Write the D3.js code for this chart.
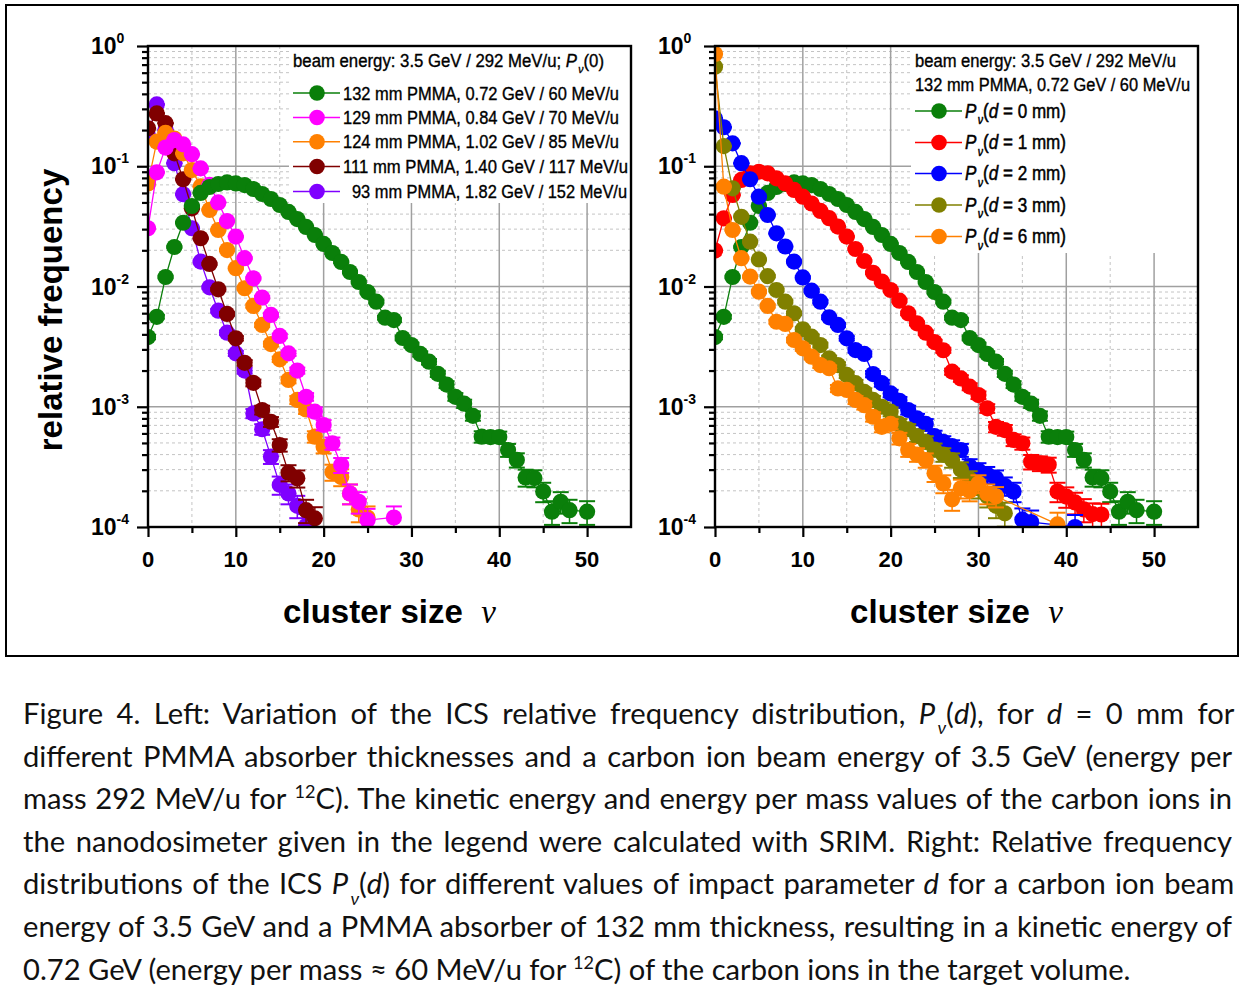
<!DOCTYPE html>
<html><head><meta charset="utf-8">
<script src="https://cdn.jsdelivr.net/npm/d3@7"></script>
<style>body{margin:0;background:#fff;} svg{display:block}</style>
</head><body>
<svg id="chart" width="1245" height="988"></svg>
<script>
// ---------------- DATA (index = cluster size ν, null = no point) ----------------
const xTicks = [0, 10, 20, 30, 40, 50];
const yTickExps = [0, -1, -2, -3, -4];

const p132mm = [3.8e-3,5.6e-3,0.012,0.0213,0.0339,0.0467,0.060,0.0672,0.0712,0.0733,0.072,0.0698,0.0647,0.0588,0.0534,0.0476,0.0417,0.0364,0.0313,0.0268,0.0226,0.0190,0.0160,0.0132,0.0109,9.0e-3,7.48e-3,5.5e-3,5.26e-3,3.73e-3,3.26e-3,2.75e-3,2.37e-3,1.88e-3,1.53e-3,1.21e-3,1.06e-3,8.4e-4,5.64e-4,5.6e-4,5.6e-4,4.37e-4,3.61e-4,2.58e-4,2.55e-4,1.97e-4,1.34e-4,1.62e-4,1.38e-4,null,1.34e-4];
const p129mm = [0.0305,0.089,0.143,0.165,0.152,0.126,0.096,0.070,0.050,0.035,0.026,0.0172,0.0117,8.1e-3,5.8e-3,3.88e-3,2.78e-3,2.0e-3,1.21e-3,9.1e-4,7.05e-4,4.97e-4,3.28e-4,1.9e-4,1.62e-4,1.14e-4,null,null,1.2e-4];
const p124mm = [0.072,0.16,0.19,0.17,0.128,0.093,0.068,0.0433,0.0295,0.0201,0.0142,9.67e-3,6.89e-3,4.79e-3,3.32e-3,2.48e-3,1.67e-3,1.14e-3,9.5e-4,5.64e-4,4.65e-4,2.86e-4,2.6e-4,1.9e-4,1.4e-4,1.2e-4];
const p111mm = [0.207,0.275,0.228,0.128,0.078,0.0447,0.0252,0.0154,9.48e-3,5.91e-3,3.71e-3,2.32e-3,1.58e-3,9.4e-4,7.5e-4,4.8e-4,2.83e-4,2.54e-4,1.38e-4,1.18e-4];
const p93mm  = [0.18,0.327,0.2,0.106,0.0585,0.0305,0.0161,9.85e-3,6.29e-3,4.13e-3,2.78e-3,2.0e-3,8.8e-4,6.5e-4,3.85e-4,2.24e-4,1.9e-4,1.5e-4,1.02e-4];

const pd0 = p132mm;
const pd1 = [0.0199,0.0369,0.0577,0.0769,0.0873,0.090,0.0873,0.0794,0.072,0.0635,0.0558,0.0490,0.0425,0.0370,0.0315,0.026,0.0205,0.0163,0.013,0.011,9.35e-3,7.62e-3,5.98e-3,4.94e-3,4.13e-3,3.45e-3,2.95e-3,1.96e-3,1.72e-3,1.47e-3,1.25e-3,9.7e-4,6.8e-4,6.4e-4,5.3e-4,4.97e-4,3.49e-4,3.39e-4,3.3e-4,1.97e-4,1.79e-4,1.6e-4,1.4e-4,1.28e-4,1.27e-4];
const pd2 = [0.25,0.211,0.155,0.106,0.078,0.0558,0.0393,0.0277,0.0215,0.0161,0.0119,9.23e-3,7.48e-3,5.54e-3,4.79e-3,3.71e-3,2.96e-3,2.75e-3,1.87e-3,1.57e-3,1.29e-3,1.12e-3,9.4e-4,8.0e-4,7.2e-4,5.7e-4,5.1e-4,4.7e-4,4.37e-4,3.2e-4,2.95e-4,2.73e-4,2.54e-4,2.2e-4,1.97e-4,1.15e-4,1.1e-4,null,null,null,null,1.0e-4];
const pd3 = [0.673,0.147,0.0655,0.038,0.0236,0.0168,0.0122,9.35e-3,7.48e-3,5.98e-3,4.41e-3,3.83e-3,3.26e-3,2.53e-3,2.22e-3,1.84e-3,1.57e-3,1.33e-3,1.14e-3,1.0e-3,9.1e-4,7.2e-4,6.5e-4,5.7e-4,5.1e-4,4.4e-4,4.0e-4,3.6e-4,3.0e-4,2.5e-4,2.1e-4,1.8e-4,1.5e-4,1.3e-4];
const pd6 = [0.858,0.0676,0.0295,0.0172,0.0121,9.06e-3,6.89e-3,5.09e-3,4.88e-3,3.59e-3,3.06e-3,2.61e-3,2.22e-3,2.09e-3,1.42e-3,1.38e-3,1.14e-3,1.03e-3,8.26e-4,6.8e-4,7.2e-4,5.46e-4,4.37e-4,4.0e-4,3.6e-4,2.8e-4,2.3e-4,1.7e-4,2.1e-4,2.0e-4,2.3e-4,1.9e-4,1.8e-4,null,null,null,null,null,null,1.05e-4];

const leftLabels = ["132 mm PMMA, 0.72 GeV / 60 MeV/u","129 mm PMMA, 0.84 GeV / 70 MeV/u","124 mm PMMA, 1.02 GeV / 85 MeV/u","111 mm PMMA, 1.40 GeV / 117 MeV/u","93 mm PMMA, 1.82 GeV / 152 MeV/u"];
const leftValues = [p132mm, p129mm, p124mm, p111mm, p93mm];
const leftColors = ["#0a7f0a","#ff00ff","#ff8000","#800000","#7f00ff"];
const rightDistances = ["0","1","2","3","6"];
const rightValues = [pd0, pd1, pd2, pd3, pd6];
const rightColors = ["#0a7f0a","#ff0000","#0000ff","#808000","#ff8000"];
const EVENTS = 150000; // assumed event count, sets error-bar (counting statistics) size

// ---------------- DRAWING ----------------
const svg = d3.select('#chart');
const ARIAL = "'Liberation Sans', Arial, sans-serif";
const NARROW = "'Liberation Sans Narrow', 'Arial Narrow', 'Liberation Sans', Arial, sans-serif";
svg.append('rect').attr('x',6).attr('y',5).attr('width',1232).attr('height',651)
  .attr('fill','none').attr('stroke','#000').attr('stroke-width',2);

const T = 46, B = 527;
const y = d3.scaleLog().domain([1e-4, 1]).range([B, T]);

function rich(sel, segs, size){
  let shift = 0;
  segs.forEach(([t, s]) => {
    const ts = sel.append('tspan').text(t);
    let target = 0;
    if (s === 'sub') { target = size*0.35; ts.attr('font-size', size*0.62).attr('font-style','italic').attr('dx', size*0.08); }
    else if (s === 'sup') { target = -size*0.38; ts.attr('font-size', size*0.62); }
    else if (s === 'i') ts.attr('font-style','italic');
    if (target !== shift) { ts.attr('dy', target - shift); shift = target; }
  });
  return sel;
}

function drawPanel(cfg){
  const L = cfg.left, R = cfg.right;
  const x = d3.scaleLinear().domain([0, 55]).range([L, R]);
  const g = svg.append('g');
  const minorX = [5,15,25,35,45], majorX = [10,20,30,40,50];
  const majorY = [1e-3,1e-2,1e-1];
  const minorY = [];
  [-4,-3,-2,-1].forEach(e => d3.range(2,10).forEach(k => minorY.push(k*Math.pow(10,e))));
  g.selectAll('.gmx').data(minorX).join('line').attr('x1',d=>x(d)).attr('x2',d=>x(d)).attr('y1',T).attr('y2',B)
    .attr('stroke','#c4c4c4').attr('stroke-width',1).attr('stroke-dasharray','3,3');
  g.selectAll('.gmy').data(minorY).join('line').attr('y1',d=>y(d)).attr('y2',d=>y(d)).attr('x1',L).attr('x2',R)
    .attr('stroke','#c4c4c4').attr('stroke-width',1).attr('stroke-dasharray','3,3');
  g.selectAll('.gMx').data(majorX).join('line').attr('x1',d=>x(d)).attr('x2',d=>x(d)).attr('y1',T).attr('y2',B)
    .attr('stroke','#a0a0a0').attr('stroke-width',1.5);
  g.selectAll('.gMy').data(majorY).join('line').attr('y1',d=>y(d)).attr('y2',d=>y(d)).attr('x1',L).attr('x2',R)
    .attr('stroke','#a0a0a0').attr('stroke-width',1.5);

  const clipId = 'clip' + cfg.id;
  svg.append('clipPath').attr('id', clipId).append('rect').attr('x',L).attr('y',T).attr('width',R-L).attr('height',B-T);
  const dg = g.append('g').attr('clip-path', `url(#${clipId})`);
  cfg.order.forEach(i => {
    const vals = cfg.values[i], col = cfg.colors[i];
    const pts = vals.map((v,k) => ({k, v})).filter(d => d.v != null);
    const sg = dg.append('g');
    sg.append('path').datum(pts).attr('fill','none').attr('stroke',col).attr('stroke-width',1.3)
      .attr('d', d3.line().x(d=>x(d.k)).y(d=>y(d.v)));
    const eb = sg.selectAll('.eb').data(pts).join('g');
    const sig = d => Math.sqrt(d.v/EVENTS);
    eb.append('line').attr('x1',d=>x(d.k)).attr('x2',d=>x(d.k))
      .attr('y1',d=>y(d.v+sig(d))).attr('y2',d=>y(Math.max(d.v-sig(d),1e-5)))
      .attr('stroke',col).attr('stroke-width',1.5);
    eb.append('line').attr('x1',d=>x(d.k)-8).attr('x2',d=>x(d.k)+8)
      .attr('y1',d=>y(d.v+sig(d))).attr('y2',d=>y(d.v+sig(d))).attr('stroke',col).attr('stroke-width',2);
    eb.append('line').attr('x1',d=>x(d.k)-8).attr('x2',d=>x(d.k)+8)
      .attr('y1',d=>y(Math.max(d.v-sig(d),1e-5))).attr('y2',d=>y(Math.max(d.v-sig(d),1e-5))).attr('stroke',col).attr('stroke-width',2);
    sg.selectAll('circle').data(pts).join('circle').attr('cx',d=>x(d.k)).attr('cy',d=>y(d.v)).attr('r',8.1).attr('fill',col);
  });

  // axes
  const ax = g.append('g').attr('transform',`translate(0,${B})`)
    .call(d3.axisBottom(x).tickValues(xTicks).tickSize(10).tickSizeOuter(0).tickFormat(''));
  const axm = g.append('g').attr('transform',`translate(0,${B})`)
    .call(d3.axisBottom(x).tickValues(minorX).tickSize(6).tickSizeOuter(0).tickFormat(''));
  const ay = g.append('g').attr('transform',`translate(${L},0)`)
    .call(d3.axisLeft(y).tickValues(yTickExps.map(e=>Math.pow(10,e))).tickSize(11).tickSizeOuter(0).tickFormat(''));
  const aym = g.append('g').attr('transform',`translate(${L},0)`)
    .call(d3.axisLeft(y).tickValues(minorY).tickSize(6).tickSizeOuter(0).tickFormat(''));
  [ax,axm,ay,aym].forEach(a => { a.select('.domain').remove(); a.selectAll('line').attr('stroke','#000').attr('stroke-width',2.2); });

  xTicks.forEach(v => g.append('text').attr('x',x(v)).attr('y',B+40).attr('text-anchor','middle')
    .attr('font-family',ARIAL).attr('font-weight','bold').attr('font-size',22).text(v));
  yTickExps.forEach(e => {
    const t = g.append('text').attr('x',L-57).attr('y',y(Math.pow(10,e))+8)
      .attr('font-family',ARIAL).attr('font-weight','bold').attr('font-size',23);
    t.append('tspan').text('10');
    t.append('tspan').attr('dy',-11).attr('font-size',14).text(e === 0 ? '0' : '-' + Math.abs(e));
  });
  const xt = g.append('text').attr('x',(L+R)/2).attr('y',B+96).attr('text-anchor','middle')
    .attr('font-family',ARIAL).attr('font-weight','bold').attr('font-size',33);
  xt.append('tspan').text('cluster size\u00A0\u00A0');
  xt.append('tspan').attr('font-family',"'Liberation Serif', serif").attr('font-style','italic').attr('font-weight','normal').text('\u03BD');

  // legend
  const lg = g.append('g');
  lg.append('rect').attr('x',cfg.lx-4).attr('y',T+1).attr('width',R-cfg.lx+3).attr('height',cfg.lh).attr('fill','#fff');
  cfg.legendTitles.forEach((tl, i) => {
    const t = lg.append('text').attr('x',cfg.lx).attr('y',cfg.ty[i]).attr('font-family',NARROW).attr('font-size',17.5)
      .attr('stroke','#000').attr('stroke-width',0.35)
      .attr('textLength',cfg.tw[i]).attr('lengthAdjust','spacingAndGlyphs');
    rich(t, tl, 17.5);
  });
  cfg.legendOrder.forEach((i, r) => {
    const yy = cfg.ey[r];
    lg.append('line').attr('x1',cfg.lx).attr('x2',cfg.lx+47).attr('y1',yy).attr('y2',yy).attr('stroke',cfg.colors[i]).attr('stroke-width',1.5);
    lg.append('circle').attr('cx',cfg.lx+24).attr('cy',yy).attr('r',7.8).attr('fill',cfg.colors[i]);
    const t = lg.append('text').attr('x',cfg.lx+cfg.tx + (cfg.txOff ? cfg.txOff[r] : 0)).attr('y',yy+6.5)
      .attr('font-family',NARROW).attr('font-size',cfg.efs)
      .attr('stroke','#000').attr('stroke-width',cfg.estroke)
      .attr('textLength',cfg.ew[r]).attr('lengthAdjust','spacingAndGlyphs');
    rich(t, cfg.entry(r), cfg.efs);
  });

  g.append('rect').attr('x',L).attr('y',T).attr('width',R-L).attr('height',B-T)
    .attr('fill','none').attr('stroke','#000').attr('stroke-width',2.4);
}

drawPanel({
  id:'L', left:148, right:631, values:leftValues, colors:leftColors, order:[4,3,2,1,0],
  lx:293, lh:156,
  legendTitles:[[["beam energy: 3.5 GeV / 292 MeV/u; ",""],["P","i"],["\u03BD","sub"],["(0)",""]]],
  ty:[67], tw:[311],
  legendOrder:[0,1,2,3,4], ey:[93,117.5,141.8,166.5,191.5], tx:50, txOff:[0,0,0,0,9], efs:17.5, estroke:0.35,
  ew:[276,276,276,285,275],
  entry:r => [[leftLabels[r], ""]]
});
drawPanel({
  id:'R', left:715, right:1198, values:rightValues, colors:rightColors, order:[0,1,2,3,4],
  lx:915, lh:206,
  legendTitles:[[["beam energy: 3.5 GeV / 292 MeV/u",""]],[["132 mm PMMA, 0.72 GeV / 60 MeV/u",""]]],
  ty:[67,91], tw:[261,275],
  legendOrder:[0,1,2,3,4], ey:[111,142.5,173.5,205,236.5], tx:50, efs:19.5, estroke:0.5,
  ew:[101,101,101,101,101],
  entry:r => [["P","i"],["\u03BD","sub"],["(",""],["d","i"],[" = " + rightDistances[r] + " mm)",""]]
});

svg.append('text').attr('transform','translate(62,310) rotate(-90)').attr('text-anchor','middle')
  .attr('font-family',ARIAL).attr('font-weight','bold').attr('font-size',33).text('relative frequency');

// ---------------- CAPTION ----------------
const captionLines = [
  [["Figure 4. Left: Variation of the ICS relative frequency distribution, ",""],["P","i"],["\u03BD","sub"],["(",""],["d","i"],["), for ",""],["d","i"],[" = 0 mm for",""]],
  [["different PMMA absorber thicknesses and a carbon ion beam energy of 3.5 GeV (energy per",""]],
  [["mass 292 MeV/u for ",""],["12","sup"],["C). The kinetic energy and energy per mass values of the carbon ions in",""]],
  [["the nanodosimeter given in the legend were calculated with SRIM. Right: Relative frequency",""]],
  [["distributions of the ICS ",""],["P","i"],["\u03BD","sub"],["(",""],["d","i"],[") for different values of impact parameter ",""],["d","i"],[" for a carbon ion beam",""]],
  [["energy of 3.5 GeV and a PMMA absorber of 132 mm thickness, resulting in a kinetic energy of",""]],
  [["0.72 GeV (energy per mass \u2248 60 MeV/u for ",""],["12","sup"],["C) of the carbon ions in the target volume.",""]]
];
const capX = 23, capRight = 1232, capY0 = 724, capDy = 42.6, lastWidth = 1108;
const CAPF = "Lato, 'Open Sans', sans-serif";
const probe = svg.append('text').attr('font-family',CAPF).attr('font-size',24);
rich(probe, captionLines[6], 24);
const capSize = 24 * lastWidth / probe.node().getComputedTextLength();
probe.remove();
captionLines.forEach((segs, i) => {
  const t = svg.append('text').attr('x',capX).attr('y',capY0 + i*capDy)
    .attr('font-family',CAPF).attr('font-size',capSize).attr('fill','#111');
  rich(t, segs, capSize);
  if (i < captionLines.length - 1) {
    const w0 = t.node().getComputedTextLength();
    const nSp = segs.map(s => s[0]).join('').split(' ').length - 1;
    const ws = (capRight - capX - w0) / nSp;
    t.style('word-spacing', ws + 'px');
    const w1 = t.node().getComputedTextLength();
    if (Math.abs(w1 - (capRight - capX)) > 4) {
      t.style('word-spacing', null).attr('textLength', capRight - capX).attr('lengthAdjust','spacing');
    }
  }
});
</script>
</body></html>
